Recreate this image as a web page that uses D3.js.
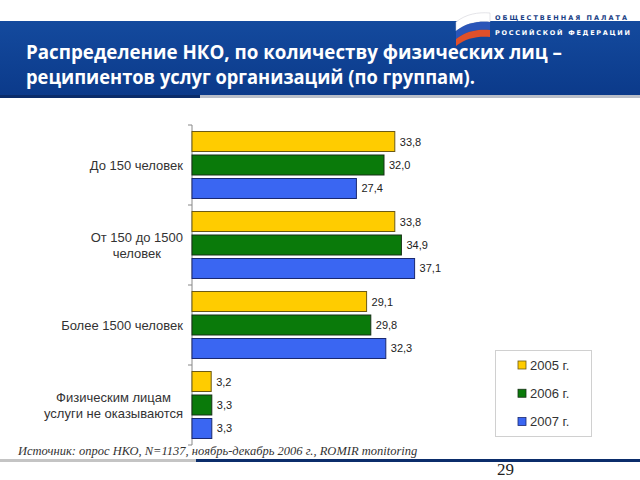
<!DOCTYPE html>
<html><head><meta charset="utf-8">
<script src="https://cdn.jsdelivr.net/npm/d3@7"></script>
<style>html,body{margin:0;padding:0;background:#fff;overflow:hidden}svg{display:block}</style>
</head><body>
<script>
const categories = ["До 150 человек", "От 150 до 1500\nчеловек", "Более 1500 человек", "Физическим лицам\nуслуги не оказываются"];
const seriesNames = ["2005 г.", "2006 г.", "2007 г."];
const values2005 = [33.8, 33.8, 29.1, 3.2];
const values2006 = [32.0, 34.9, 29.8, 3.3];
const values2007 = [27.4, 37.1, 32.3, 3.3];
const titleLines = ["Распределение НКО, по количеству физических лиц –", "реципиентов услуг организаций (по группам)."];
const sourceText = "Источник: опрос НКО, N=1137, ноябрь-декабрь 2006 г., ROMIR monitoring";
const pageNumber = "29";

const seriesValues = [values2005, values2006, values2007];
const fills = ["#FFCC00", "#0A7A0A", "#3A66F2"];
const strokes = ["#6b5a14", "#163016", "#1a2870"];

const W = 640, H = 480;
const svg = d3.select("body").append("svg").attr("width", W).attr("height", H);

// Header
const defs = svg.append("defs");
const g1 = defs.append("linearGradient").attr("id", "band").attr("x1", 0).attr("x2", 0).attr("y1", 0).attr("y2", 1);
g1.append("stop").attr("offset", 0).attr("stop-color", "#144a9e");
g1.append("stop").attr("offset", 1).attr("stop-color", "#0b3a8a");
svg.append("rect").attr("x", 0).attr("y", 21).attr("width", W).attr("height", 75).attr("fill", "url(#band)");
svg.append("rect").attr("x", 0).attr("y", 95).attr("width", 200).attr("height", 3).attr("fill", "#0a2c6a");
svg.append("rect").attr("x", 200).attr("y", 95).attr("width", 440).attr("height", 3).attr("fill", "#b9bec8");

// logo flag
const flag = svg.append("g");
flag.append("path").attr("d", "M456,22 C466,14 478,12 490,13 L490,22 C478,21 466,23 456,31 Z").attr("fill", "#ffffff").attr("stroke", "#c8c8d0").attr("stroke-width", 0.5);
flag.append("path").attr("d", "M456,31 C466,23 478,21 490,22 L490,30 C478,29 466,31 456,39 Z").attr("fill", "#2a55b8");
flag.append("path").attr("d", "M456,39 C466,31 478,29 490,30 L490,37 C478,36 466,38 456,46 Z").attr("fill", "#e0502a");
svg.append("text").attr("x", 495).attr("y", 20).attr("font-family", "DejaVu Sans").attr("font-weight", "bold")
  .attr("font-size", 6.5).attr("fill", "#1b3f86").attr("textLength", 132).attr("lengthAdjust", "spacing").text("ОБЩЕСТВЕННАЯ ПАЛАТА");
svg.append("text").attr("x", 495).attr("y", 35).attr("font-family", "DejaVu Sans").attr("font-weight", "bold")
  .attr("font-size", 6.5).attr("fill", "#ffffff").attr("textLength", 135).attr("lengthAdjust", "spacing").text("РОССИЙСКОЙ ФЕДЕРАЦИИ");

// title
const titleWidths = [536, 449];
titleLines.forEach((t, i) => {
  svg.append("text").attr("x", 26).attr("y", 59 + i * 25)
    .attr("font-family", "Open Sans").attr("font-weight", "bold").attr("font-size", 19)
    .attr("fill", "#ffffff").attr("textLength", titleWidths[i]).attr("lengthAdjust", "spacingAndGlyphs").text(t);
});

// Chart
const x = d3.scaleLinear().domain([0, 40]).range([192, 432]);
const y0 = d3.scaleBand().domain(categories).range([125, 445]).padding(0);
const y1 = d3.scaleBand().domain(seriesNames).range([0, y0.bandwidth()]).paddingInner(0.149).paddingOuter(0.277);
const fmt = v => d3.format(".1f")(v).replace(".", ",");

// axis
const axG = svg.append("g").attr("transform", "translate(192,0)");
axG.append("line").attr("x1", 0).attr("x2", 0).attr("y1", 125).attr("y2", 445).attr("stroke", "#888");
const tickYs = categories.map(c => y0(c)).concat([y0.range()[1]]);
axG.selectAll("line.t").data(tickYs).join("line").attr("class", "t")
  .attr("x1", -4).attr("x2", 0).attr("y1", d => d).attr("y2", d => d).attr("stroke", "#888");

// category labels
categories.forEach(c => {
  const lines = c.split("\n");
  const gT = svg.append("g");
  const cy = y0(c) + y0.bandwidth() / 2;
  const lh = 16;
  const texts = lines.map((l, i) => gT.append("text")
    .attr("y", cy + (i - (lines.length - 1) / 2) * lh + 4.5)
    .attr("font-family", "Liberation Sans, Arial").attr("font-size", 13).attr("fill", "#333")
    .attr("text-anchor", "middle").text(l));
  const maxW = d3.max(texts, t => t.node().getComputedTextLength());
  texts.forEach(t => t.attr("x", 183 - maxW / 2));
});

// bars
const groups = svg.selectAll("g.grp").data(categories).join("g").attr("class", "grp")
  .attr("transform", d => `translate(0,${y0(d)})`);
seriesNames.forEach((s, si) => {
  groups.append("rect")
    .attr("x", x(0)).attr("y", y1(s))
    .attr("width", (d, ci) => x(seriesValues[si][ci]) - x(0))
    .attr("height", y1.bandwidth())
    .attr("fill", fills[si]).attr("stroke", strokes[si]).attr("stroke-width", 1);
  groups.append("text")
    .attr("x", (d, ci) => x(seriesValues[si][ci]) + 5)
    .attr("y", y1(s) + y1.bandwidth() / 2 + 4)
    .attr("font-family", "Liberation Sans, Arial").attr("font-size", 11).attr("fill", "#222")
    .text((d, ci) => fmt(seriesValues[si][ci]));
});

// legend
const lg = svg.append("g");
lg.append("rect").attr("x", 495.5).attr("y", 350.5).attr("width", 96).attr("height", 86)
  .attr("fill", "#fff").attr("stroke", "#d0d0d0");
const ly = d3.scalePoint().domain(seriesNames).range([365, 421.5]);
seriesNames.forEach((s, i) => {
  lg.append("rect").attr("x", 518).attr("y", ly(s) - 4).attr("width", 8).attr("height", 8)
    .attr("fill", fills[i]).attr("stroke", strokes[i]).attr("stroke-width", 0.8);
  lg.append("text").attr("x", 530).attr("y", ly(s) + 4.5)
    .attr("font-family", "Liberation Sans, Arial").attr("font-size", 13).attr("fill", "#333").text(s);
});

// source + footer
svg.append("text").attr("x", 18).attr("y", 455).attr("font-family", "Liberation Serif, Times New Roman")
  .attr("font-style", "italic").attr("font-size", 12.5).attr("fill", "#333").text(sourceText);
svg.append("rect").attr("x", 0).attr("y", 459).attr("width", 196).attr("height", 3).attr("fill", "#c4c4c4");
svg.append("rect").attr("x", 196).attr("y", 459).attr("width", 444).attr("height", 3).attr("fill", "#0b2d6b");
svg.append("text").attr("x", 497).attr("y", 475).attr("font-family", "Liberation Serif, Times New Roman")
  .attr("font-size", 17).attr("fill", "#222").text(pageNumber);
</script>
</body></html>
